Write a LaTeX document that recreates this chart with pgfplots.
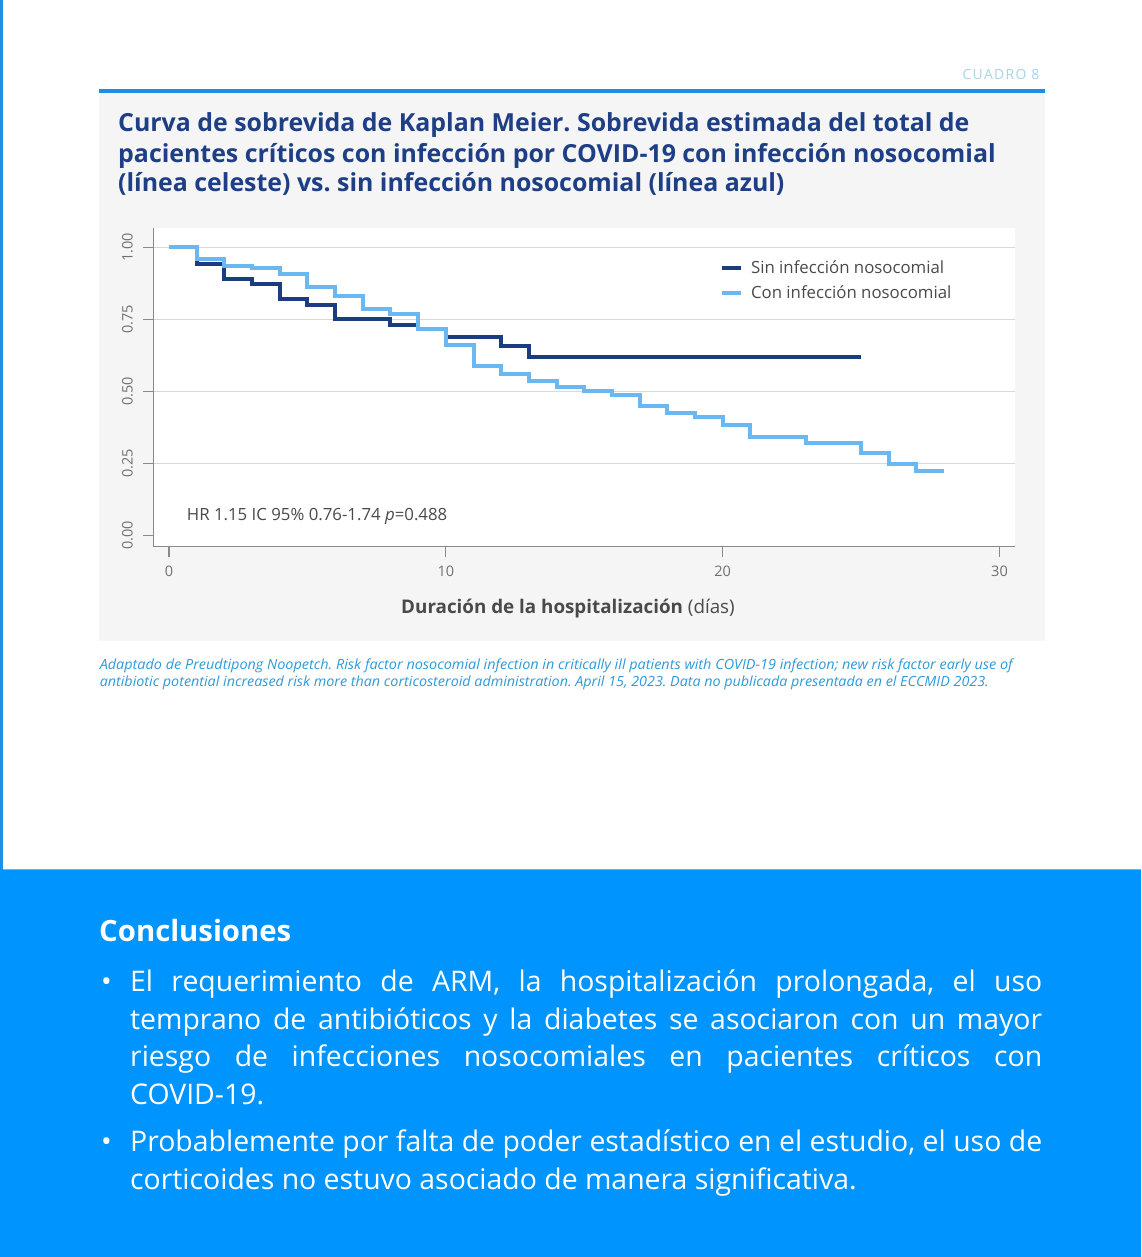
\documentclass[border=0pt]{standalone}
\usepackage{pgfplots}
\pgfplotsset{compat=1.18}
\usepackage{fontspec}
\usepackage{graphicx}
\setmainfont{Open Sans}
\frenchspacing
\definecolor{pageblue}{HTML}{0094FF}
\definecolor{boxline}{HTML}{5CB8FF}
\definecolor{edgeblue}{HTML}{1E90E8}
\definecolor{panelgrey}{HTML}{F5F5F5}
\definecolor{ruleblue}{HTML}{1E8DE6}
\definecolor{cuadro}{HTML}{A9D3E8}
\definecolor{titleblue}{HTML}{1E3F86}
\definecolor{darkline}{HTML}{1B3C80}
\definecolor{lightline}{HTML}{6AB8F1}
\definecolor{capblue}{HTML}{2E9AD8}
\definecolor{textgrey}{HTML}{4A4A4A}
\definecolor{tickgrey}{HTML}{707070}
\definecolor{axisgrey}{HTML}{8A8A8A}
\definecolor{gridgrey}{HTML}{D9D9D9}
\begin{document}
\begin{tikzpicture}[x=1pt,y=1pt]
\useasboundingbox (0,0) rectangle (1141,1257);
\fill[white] (0,0) rectangle (1141,1257);
\fill[pageblue] (0,0) rectangle (1141,387);
\draw[boxline, line width=1pt] (0,387.5) -- (1141,387.5);
\fill[edgeblue] (0,387) rectangle (2.5,1257);
\fill[panelgrey] (99,616) rectangle (1044.5,1164);
\fill[ruleblue] (99,1163.7) rectangle (1044.5,1167.7);
\node[anchor=base east, inner sep=0, font=\fontsize{14}{16}\selectfont\addfontfeatures{LetterSpace=9}, text=cuadro] at (1039.5,1177) {CUADRO 8};
% title
\begin{scope}[every node/.style={anchor=base west, inner sep=0, text=titleblue, font=\fontsize{24.9}{28}\selectfont\bfseries}]
\node at (118,1125.3) {Curva de sobrevida de Kaplan Meier. Sobrevida estimada del total de};
\node at (118,1094.7) {pacientes críticos con infección por COVID-19 con infección nosocomial};
\node at (118,1065.3) {(línea celeste) vs. sin infección nosocomial (línea azul)};
\end{scope}
\begin{axis}[
  at={(153.3pt,710.3pt)}, anchor=south west,
  width=861.7pt, height=318.7pt, scale only axis,
  xmin=-0.567, xmax=30.56, ymin=-0.0396, ymax=1.067,
  axis x line*=bottom, axis y line*=left,
  axis line style={draw=axisgrey, line width=1.2pt, -},
  xtick={0,10,20,30}, ytick={0.25,0.5,0.75,1},
  extra y ticks={0}, extra y tick style={grid=none},
  ymajorgrids, grid style={draw=gridgrey, line width=1pt},
  tick align=outside, major tick length=10pt,
  tick style={draw=axisgrey, line width=1.2pt},
  /pgf/number format/assume math mode=true,
  tick label style={font=\fontsize{14.5}{16}\selectfont, text=tickgrey},
  xticklabel shift=6pt, yticklabel shift=7pt,
  yticklabel style={rotate=90, anchor=south, /pgf/number format/fixed, /pgf/number format/fixed zerofill, /pgf/number format/precision=2},
  axis background/.style={fill=white},
  legend style={at={(axis cs:19.88,0.958)}, anchor=north west, draw=none, fill=none, inner sep=0pt, row sep=7pt, font=\fontsize{16.8}{20}\selectfont, text=textgrey, nodes={inner sep=1.5pt}},
  legend image code/.code={\draw[#1, line width=4pt] (0pt,0pt) -- (19.4pt,0pt); \path (26pt,0pt);},
  legend cell align=left,
]
\addplot[const plot, darkline, line width=4pt] coordinates {
(0,1.000) (1,0.943) (2,0.890) (3,0.872) (4,0.820) (5,0.799) (6,0.750) (8,0.729) (9,0.715) (10,0.690) (12,0.658) (13,0.620) (25,0.620)};
\addlegendentry{Sin infección nosocomial}
\addplot[const plot, lightline, line width=4pt] coordinates {
(0,1.000) (1,0.958) (2,0.935) (3,0.927) (4,0.907) (5,0.863) (6,0.832) (7,0.787) (8,0.770) (9,0.715) (10,0.661) (11,0.589) (12,0.560) (13,0.536) (14,0.516) (15,0.502) (16,0.488) (17,0.450) (18,0.425) (19,0.411) (20,0.384) (21,0.340) (23,0.322) (25,0.287) (26,0.248) (27,0.222) (28,0.222)};
\addlegendentry{Con infección nosocomial}
\end{axis}
\node[anchor=base west, inner sep=0, font=\fontsize{16.8}{18}\selectfont, text=textgrey] at (186.7,736) {HR 1.15 IC 95\% 0.76-1.74 \textit{p}=0.488};
\node[anchor=base, inner sep=0, font=\fontsize{18.8}{20}\selectfont, text=textgrey] at (568,643.7) {\textbf{Duración de la hospitalización} (días)};
% caption
\begin{scope}[every node/.style={anchor=base west, inner sep=0, text=capblue, font=\fontsize{14}{16}\selectfont\itshape}]
\node at (99.6,587.7) {\resizebox{913pt}{\height}{Adaptado de Preudtipong Noopetch. Risk factor nosocomial infection in critically ill patients with COVID-19 infection; new risk factor early use of}};
\node at (99.6,570.3) {\resizebox{889pt}{\height}{antibiotic potential increased risk more than corticosteroid administration. April 15, 2023. Data no publicada presentada en el ECCMID 2023.}};
\end{scope}
% conclusions
\node[anchor=base west, inner sep=0, text=white, font=\fontsize{29.3}{32}\selectfont\bfseries] at (99,315.3) {Conclusiones};
\begin{scope}[every node/.style={anchor=base west, inner sep=0, text=white, font=\fontsize{28.4}{32}\selectfont}]
\node at (101,265) {•};
\node at (130,265) {\makebox[912pt][s]{El requerimiento de ARM, la hospitalización prolongada, el uso}};
\node at (130,227.5) {\makebox[912pt][s]{temprano de antibióticos y la diabetes se asociaron con un mayor}};
\node at (130,190) {\makebox[912pt][s]{riesgo de infecciones nosocomiales en pacientes críticos con}};
\node at (130,152.5) {COVID-19.};
\node at (101,105.3) {•};
\node at (130,105.3) {\makebox[912pt][s]{Probablemente por falta de poder estadístico en el estudio, el uso de}};
\node at (130,67.8) {corticoides no estuvo asociado de manera significativa.};
\end{scope}
\end{tikzpicture}
\end{document}
